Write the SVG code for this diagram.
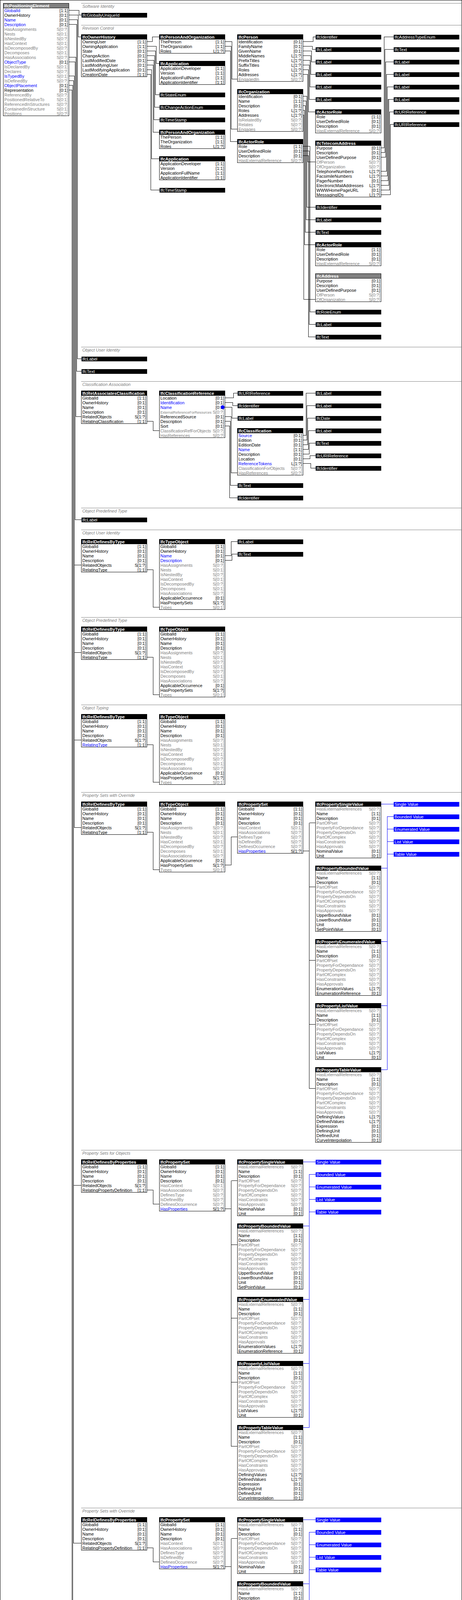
<svg xmlns="http://www.w3.org/2000/svg" width="1184" height="6004" viewBox="0 0 1184 6004">
<style>
text{font-family:"Liberation Sans",Arial,sans-serif;font-size:11px;fill:#000}
.g{fill:#808080}
.u{fill:#0000ff}
.w{fill:#fff}
.hb{fill:#fff;font-weight:bold}
.c{text-anchor:end}
.st{fill:#808080;font-style:italic}
.sm{font-size:9px}
.sm2{font-size:10.5px}
rect{shape-rendering:crispEdges}
rect.b{fill:#fff;stroke:#000}
rect.h{fill:#000}
rect.ha{fill:#808080;stroke:#000}
rect.t{fill:#000}
rect.bl{fill:#0000ff}
line.s{stroke:#808080;shape-rendering:crispEdges}
#connectors path{fill:none;stroke:#000;shape-rendering:crispEdges}
#connectors path.bp{stroke:#0000ff}
</style>
<defs><clipPath id="clipw"><rect width="166" height="12"/></clipPath></defs>
<rect x="0.5" y="0.5" width="1183" height="6002" fill="#fff" stroke="#000"/>
<g id="sections">
<line class="s" x1="208" y1="8.5" x2="1184" y2="8.5"/><text class="st" x="211" y="19.5">Software Identity</text>
<line class="s" x1="208" y1="64.5" x2="1184" y2="64.5"/><text class="st" x="211" y="75.5">Revision Control</text>
<line class="s" x1="208" y1="888.5" x2="1184" y2="888.5"/><text class="st" x="211" y="899.5">Object User Identity</text>
<line class="s" x1="208" y1="976.5" x2="1184" y2="976.5"/><text class="st" x="211" y="987.5">Classification Association</text>
<line class="s" x1="208" y1="1300.5" x2="1184" y2="1300.5"/><text class="st" x="211" y="1311.5">Object Predefined Type</text>
<line class="s" x1="208" y1="1356.5" x2="1184" y2="1356.5"/><text class="st" x="211" y="1367.5">Object User Identity</text>
<line class="s" x1="208" y1="1580.5" x2="1184" y2="1580.5"/><text class="st" x="211" y="1591.5">Object Predefined Type</text>
<line class="s" x1="208" y1="1804.5" x2="1184" y2="1804.5"/><text class="st" x="211" y="1815.5">Object Typing</text>
<line class="s" x1="208" y1="2028.5" x2="1184" y2="2028.5"/><text class="st" x="211" y="2039.5">Property Sets with Override</text>
<line class="s" x1="208" y1="2944.5" x2="1184" y2="2944.5"/><text class="st" x="211" y="2955.5">Property Sets for Objects</text>
<line class="s" x1="208" y1="3860.5" x2="1184" y2="3860.5"/><text class="st" x="211" y="3871.5">Property Sets with Override</text>
<line class="s" x1="208" y1="4776.5" x2="1184" y2="4776.5"/><text class="st" x="211" y="4787.5">Product Local Placement</text>
<line class="s" x1="208" y1="5560.5" x2="1184" y2="5560.5"/><text class="st" x="211" y="5571.5">FootPrint Geometry</text>
<line class="s" x1="208" y1="5788.5" x2="1184" y2="5788.5"/><text class="st" x="211" y="5799.5">Product Geometric Representation</text>
</g>
<g id="connectors">
<path d="M176.5,26.5H202.5V38.5H208.5"/>
<path d="M176.5,38.5H200.5V94.5H208.5"/>
<path d="M176.5,50.5H198.5V918.5H208.5"/>
<path d="M176.5,62.5H196.5V950.5H208.5"/>
<path d="M176.5,146.5H194.5V1066.5H208.5"/>
<path d="M176.5,158.5H192.5V1330.5H208.5"/>
<path d="M176.5,194.5H190.5V2118.5H208.5M190.5,1446.5H208.5M190.5,1670.5H208.5M190.5,1894.5H208.5"/>
<path d="M176.5,206.5H188.5V3950.5H208.5M188.5,3034.5H208.5"/>
<path d="M176.5,218.5H186.5V4818.5H208.5"/>
<path d="M176.5,230.5H184.5V5866.5H208.5M184.5,5638.5H208.5"/>
<path d="M376.5,106.5H390.5V94.5H408.5"/>
<path d="M376.5,118.5H400.5V162.5H408.5"/>
<path d="M376.5,130.5H398.5V242.5H408.5"/>
<path d="M376.5,142.5H396.5V274.5H408.5"/>
<path d="M376.5,154.5H394.5V306.5H408.5"/>
<path d="M376.5,166.5H392.5V338.5H408.5"/>
<path d="M376.5,178.5H388.5V406.5H408.5"/>
<path d="M376.5,190.5H386.5V486.5H408.5"/>
<path d="M576.5,106.5H594.5V202.5H608.5"/>
<path d="M576.5,118.5H592.5V330.5H608.5"/>
<path d="M576.5,130.5H590.5V362.5H608.5"/>
<path d="M776.5,106.5H802.5V94.5H808.5"/>
<path d="M776.5,118.5H800.5V126.5H808.5"/>
<path d="M776.5,130.5H798.5V158.5H808.5"/>
<path d="M776.5,142.5H796.5V190.5H808.5"/>
<path d="M776.5,154.5H794.5V222.5H808.5"/>
<path d="M776.5,166.5H792.5V254.5H808.5"/>
<path d="M776.5,178.5H790.5V286.5H808.5"/>
<path d="M776.5,190.5H788.5V414.5H808.5"/>
<path d="M776.5,246.5H786.5V530.5H808.5"/>
<path d="M776.5,258.5H784.5V562.5H808.5"/>
<path d="M776.5,270.5H782.5V594.5H808.5"/>
<path d="M776.5,282.5H780.5V626.5H808.5"/>
<path d="M776.5,294.5H778.5V766.5H808.5"/>
<path d="M776.5,374.5H794.5V798.5H808.5"/>
<path d="M776.5,386.5H792.5V830.5H808.5"/>
<path d="M776.5,398.5H790.5V862.5H808.5"/>
<path d="M976.5,378.5H984.5V94.5H1008.5"/>
<path d="M976.5,390.5H986.5V126.5H1008.5"/>
<path d="M976.5,402.5H988.5V158.5H1008.5"/>
<path d="M976.5,438.5H990.5V190.5H1008.5"/>
<path d="M976.5,450.5H992.5V222.5H1008.5"/>
<path d="M976.5,462.5H994.5V254.5H1008.5"/>
<path d="M976.5,474.5H996.5V254.5H1008.5"/>
<path d="M976.5,486.5H998.5V286.5H1008.5"/>
<path d="M976.5,498.5H1000.5V318.5H1008.5"/>
<path d="M376.5,1078.5H392.5V1102.5H408.5"/>
<path d="M576.5,1018.5H598.5V1006.5H608.5"/>
<path d="M576.5,1030.5H596.5V1038.5H608.5"/>
<path d="M576.5,1042.5H594.5V1070.5H608.5"/>
<path d="M576.5,1066.5H592.5V1210.5H608.5"/>
<path d="M576.5,1078.5H590.5V1242.5H608.5"/>
<path d="M576.5,1090.5H588.5V1274.5H608.5"/>
<path d="M776.5,1114.5H784.5V1006.5H808.5"/>
<path d="M776.5,1126.5H786.5V1038.5H808.5"/>
<path d="M776.5,1138.5H788.5V1070.5H808.5"/>
<path d="M776.5,1150.5H790.5V1102.5H808.5"/>
<path d="M776.5,1162.5H792.5V1134.5H808.5"/>
<path d="M776.5,1174.5H794.5V1166.5H808.5"/>
<path d="M776.5,1186.5H796.5V1198.5H808.5"/>
<path d="M376.5,1458.5H392.5V1554.5H408.5"/>
<path d="M576.5,1422.5H592.5V1386.5H608.5"/>
<path d="M576.5,1434.5H594.5V1418.5H608.5"/>
<path d="M376.5,1682.5H392.5V1778.5H408.5"/>
<path d="M376.5,1906.5H392.5V2002.5H408.5"/>
<path d="M376.5,2130.5H392.5V2226.5H408.5"/>
<path d="M576.5,2214.5H592.5V2142.5H608.5"/>
<path d="M776.5,2178.5H792.5M792.5,2106.5V2786.5M792.5,2106.5H808.5M792.5,2270.5H808.5M792.5,2458.5H808.5M792.5,2622.5H808.5M792.5,2786.5H808.5"/>
<path class="bp" d="M976.5,2058.5H1008.5M976.5,2222.5H992.5V2090.5H1008.5M976.5,2410.5H992.5V2122.5H1008.5M976.5,2574.5H992.5V2154.5H1008.5M976.5,2738.5H992.5V2186.5H1008.5"/>
<path d="M376.5,3046.5H392.5V3082.5H408.5"/>
<path d="M576.5,3094.5H592.5M592.5,3022.5V3702.5M592.5,3022.5H608.5M592.5,3186.5H608.5M592.5,3374.5H608.5M592.5,3538.5H608.5M592.5,3702.5H608.5"/>
<path class="bp" d="M776.5,2974.5H808.5M776.5,3138.5H792.5V3006.5H808.5M776.5,3326.5H792.5V3038.5H808.5M776.5,3490.5H792.5V3070.5H808.5M776.5,3654.5H792.5V3102.5H808.5"/>
<path d="M376.5,3962.5H392.5V3998.5H408.5"/>
<path d="M576.5,4010.5H592.5M592.5,3938.5V4618.5M592.5,3938.5H608.5M592.5,4102.5H608.5M592.5,4290.5H608.5M592.5,4454.5H608.5M592.5,4618.5H608.5"/>
<path class="bp" d="M776.5,3890.5H808.5M776.5,4054.5H792.5V3922.5H808.5M776.5,4242.5H792.5V3954.5H808.5M776.5,4406.5H792.5V3986.5H808.5M776.5,4570.5H792.5V4018.5H808.5"/>
<path d="M376.5,4830.5H392.5V4806.5H408.5"/>
<path d="M376.5,4842.5H390.5V4874.5H408.5"/>
<path d="M576.5,4818.5H592.5V5438.5H608.5M592.5,5010.5H608.5"/>
<path d="M776.5,4842.5H792.5V4806.5H808.5"/>
<path d="M776.5,5270.5H792.5V4838.5H808.5"/>
<path d="M376.5,5626.5H392.5V5674.5H408.5"/>
<path d="M576.5,5602.5H596.5V5626.5H608.5"/>
<path d="M576.5,5614.5H593.5V5730.5H608.5"/>
<path d="M576.5,5626.5H590.5V5762.5H608.5"/>
<path d="M376.5,5854.5H392.5V5902.5H408.5"/>
<path d="M576.5,5830.5H596.5V5854.5H608.5"/>
<path d="M576.5,5842.5H593.5V5958.5H608.5"/>
<path d="M576.5,5854.5H590.5V5990.5H608.5"/>
</g>

<g id="n_positioning_element" transform="translate(8.5,8.5)"><rect class="b" width="168" height="288"/><rect class="ha" width="168" height="12"/><text class="hb" x="2.5" y="10">IfcPositioningElement</text>
<g transform="translate(2.5,0)"><text class="u" y="22">GlobalId</text><text y="34">OwnerHistory</text><text class="u" y="46">Name</text><text class="u" y="58">Description</text><text class="g" y="70">HasAssignments</text><text class="g" y="82">Nests</text><text class="g" y="94">IsNestedBy</text><text class="g" y="106">HasContext</text><text class="g" y="118">IsDecomposedBy</text><text class="g" y="130">Decomposes</text><text class="g" y="142">HasAssociations</text><text class="u" y="154">ObjectType</text><text class="g" y="166">IsDeclaredBy</text><text class="g" y="178">Declares</text><text class="u" y="190">IsTypedBy</text><text class="g" y="202">IsDefinedBy</text><text class="u" y="214">ObjectPlacement</text><text y="226">Representation</text><text class="g" y="238">ReferencedBy</text><text class="g" y="250">PositionedRelativeTo</text><text class="g" y="262">ReferencedInStructures</text><text class="g" y="274">ContainedInStructure</text><text class="g" y="286">Positions</text></g>
<g class="c" transform="translate(165.5,0)"><text y="22">[1:1]</text><text y="34">[0:1]</text><text y="46">[0:1]</text><text y="58">[0:1]</text><text class="g" y="70">S[0:?]</text><text class="g" y="82">S[0:1]</text><text class="g" y="94">S[0:?]</text><text class="g" y="106">S[0:1]</text><text class="g" y="118">S[0:?]</text><text class="g" y="130">S[0:1]</text><text class="g" y="142">S[0:?]</text><text y="154">[0:1]</text><text class="g" y="166">S[0:1]</text><text class="g" y="178">S[0:?]</text><text class="g" y="190">S[0:1]</text><text class="g" y="202">S[0:?]</text><text y="214">[0:1]</text><text y="226">[0:1]</text><text class="g" y="238">S[0:?]</text><text class="g" y="250">S[0:1]</text><text class="g" y="262">S[0:?]</text><text class="g" y="274">S[0:1]</text><text class="g" y="286">S[0:?]</text></g></g>

<g id="n_guid" transform="translate(208.5,32.5)"><rect class="t" width="168" height="12"/><text class="w" x="2.5" y="10">IfcGloballyUniqueId</text></g>

<g id="n_ownerhistory" transform="translate(208.5,88.5)"><rect class="b" width="168" height="108"/><rect class="h" width="168" height="12"/><text class="hb" x="2.5" y="10">IfcOwnerHistory</text>
<g transform="translate(2.5,0)"><text y="22">OwningUser</text><text y="34">OwningApplication</text><text y="46">State</text><text y="58">ChangeAction</text><text y="70">LastModifiedDate</text><text y="82">LastModifyingUser</text><text y="94">LastModifyingApplication</text><text y="106">CreationDate</text></g>
<g class="c" transform="translate(165.5,0)"><text y="22">[1:1]</text><text y="34">[1:1]</text><text y="46">[0:1]</text><text y="58">[0:1]</text><text y="70">[0:1]</text><text y="82">[0:1]</text><text y="94">[0:1]</text><text y="106">[1:1]</text></g></g>

<g id="n_pao1" transform="translate(408.5,88.5)"><rect class="b" width="168" height="48"/><rect class="h" width="168" height="12"/><text class="hb" x="2.5" y="10">IfcPersonAndOrganization</text>
<g transform="translate(2.5,0)"><text y="22">ThePerson</text><text y="34">TheOrganization</text><text y="46">Roles</text></g>
<g class="c" transform="translate(165.5,0)"><text y="22">[1:1]</text><text y="34">[1:1]</text><text y="46">L[1:?]</text></g></g>
<g id="n_app1" transform="translate(408.5,156.5)"><rect class="b" width="168" height="60"/><rect class="h" width="168" height="12"/><text class="hb" x="2.5" y="10">IfcApplication</text>
<g transform="translate(2.5,0)"><text y="22">ApplicationDeveloper</text><text y="34">Version</text><text y="46">ApplicationFullName</text><text y="58">ApplicationIdentifier</text></g>
<g class="c" transform="translate(165.5,0)"><text y="22">[1:1]</text><text y="34">[1:1]</text><text y="46">[1:1]</text><text y="58">[1:1]</text></g></g>
<g id="n_stateenum" transform="translate(408.5,236.5)"><rect class="t" width="168" height="12"/><text class="w" x="2.5" y="10">IfcStateEnum</text></g>
<g id="n_changeaction" transform="translate(408.5,268.5)"><rect class="t" width="168" height="12"/><text class="w" x="2.5" y="10">IfcChangeActionEnum</text></g>
<g id="n_timestamp1" transform="translate(408.5,300.5)"><rect class="t" width="168" height="12"/><text class="w" x="2.5" y="10">IfcTimeStamp</text></g>
<g id="n_pao2" transform="translate(408.5,332.5)"><rect class="b" width="168" height="48"/><rect class="h" width="168" height="12"/><text class="hb" x="2.5" y="10">IfcPersonAndOrganization</text>
<g transform="translate(2.5,0)"><text y="22">ThePerson</text><text y="34">TheOrganization</text><text y="46">Roles</text></g>
<g class="c" transform="translate(165.5,0)"><text y="22">[1:1]</text><text y="34">[1:1]</text><text y="46">L[1:?]</text></g></g>
<g id="n_app2" transform="translate(408.5,400.5)"><rect class="b" width="168" height="60"/><rect class="h" width="168" height="12"/><text class="hb" x="2.5" y="10">IfcApplication</text>
<g transform="translate(2.5,0)"><text y="22">ApplicationDeveloper</text><text y="34">Version</text><text y="46">ApplicationFullName</text><text y="58">ApplicationIdentifier</text></g>
<g class="c" transform="translate(165.5,0)"><text y="22">[1:1]</text><text y="34">[1:1]</text><text y="46">[1:1]</text><text y="58">[1:1]</text></g></g>
<g id="n_timestamp2" transform="translate(408.5,480.5)"><rect class="t" width="168" height="12"/><text class="w" x="2.5" y="10">IfcTimeStamp</text></g>

<g id="n_person" transform="translate(608.5,88.5)"><rect class="b" width="168" height="120"/><rect class="h" width="168" height="12"/><text class="hb" x="2.5" y="10">IfcPerson</text>
<g transform="translate(2.5,0)"><text y="22">Identification</text><text y="34">FamilyName</text><text y="46">GivenName</text><text y="58">MiddleNames</text><text y="70">PrefixTitles</text><text y="82">SuffixTitles</text><text y="94">Roles</text><text y="106">Addresses</text><text class="g" y="118">EngagedIn</text></g>
<g class="c" transform="translate(165.5,0)"><text y="22">[0:1]</text><text y="34">[0:1]</text><text y="46">[0:1]</text><text y="58">L[1:?]</text><text y="70">L[1:?]</text><text y="82">L[1:?]</text><text y="94">L[1:?]</text><text y="106">L[1:?]</text><text class="g" y="118">S[0:?]</text></g></g>
<g id="n_organization" transform="translate(608.5,228.5)"><rect class="b" width="168" height="108"/><rect class="h" width="168" height="12"/><text class="hb" x="2.5" y="10">IfcOrganization</text>
<g transform="translate(2.5,0)"><text y="22">Identification</text><text y="34">Name</text><text y="46">Description</text><text y="58">Roles</text><text y="70">Addresses</text><text class="g" y="82">IsRelatedBy</text><text class="g" y="94">Relates</text><text class="g" y="106">Engages</text></g>
<g class="c" transform="translate(165.5,0)"><text y="22">[0:1]</text><text y="34">[1:1]</text><text y="46">[0:1]</text><text y="58">L[1:?]</text><text y="70">L[1:?]</text><text class="g" y="82">S[0:?]</text><text class="g" y="94">S[0:?]</text><text class="g" y="106">S[0:?]</text></g></g>
<g id="n_actorrole1" transform="translate(608.5,356.5)"><rect class="b" width="168" height="60"/><rect class="h" width="168" height="12"/><text class="hb" x="2.5" y="10">IfcActorRole</text>
<g transform="translate(2.5,0)"><text y="22">Role</text><text y="34">UserDefinedRole</text><text y="46">Description</text><text class="g" y="58">HasExternalReference</text></g>
<g class="c" transform="translate(165.5,0)"><text y="22">[1:1]</text><text y="34">[0:1]</text><text y="46">[0:1]</text><text class="g" y="58">S[0:?]</text></g></g>

<g id="n_rc_identifier1" transform="translate(808.5,88.5)"><rect class="t" width="168" height="12"/><text class="w" x="2.5" y="10">IfcIdentifier</text></g>
<g id="n_rc_label1" transform="translate(808.5,120.5)"><rect class="t" width="168" height="12"/><text class="w" x="2.5" y="10">IfcLabel</text></g>
<g id="n_rc_label2" transform="translate(808.5,152.5)"><rect class="t" width="168" height="12"/><text class="w" x="2.5" y="10">IfcLabel</text></g>
<g id="n_rc_label3" transform="translate(808.5,184.5)"><rect class="t" width="168" height="12"/><text class="w" x="2.5" y="10">IfcLabel</text></g>
<g id="n_rc_label4" transform="translate(808.5,216.5)"><rect class="t" width="168" height="12"/><text class="w" x="2.5" y="10">IfcLabel</text></g>
<g id="n_rc_label5" transform="translate(808.5,248.5)"><rect class="t" width="168" height="12"/><text class="w" x="2.5" y="10">IfcLabel</text></g>
<g id="n_actorrole2" transform="translate(808.5,280.5)"><rect class="b" width="168" height="60"/><rect class="h" width="168" height="12"/><text class="hb" x="2.5" y="10">IfcActorRole</text>
<g transform="translate(2.5,0)"><text y="22">Role</text><text y="34">UserDefinedRole</text><text y="46">Description</text><text class="g" y="58">HasExternalReference</text></g>
<g class="c" transform="translate(165.5,0)"><text y="22">[1:1]</text><text y="34">[0:1]</text><text y="46">[0:1]</text><text class="g" y="58">S[0:?]</text></g></g>
<g id="n_telecom" transform="translate(808.5,360.5)"><rect class="b" width="168" height="144"/><rect class="h" width="168" height="12"/><text class="hb" x="2.5" y="10">IfcTelecomAddress</text>
<g transform="translate(2.5,0)"><text y="22">Purpose</text><text y="34">Description</text><text y="46">UserDefinedPurpose</text><text class="g" y="58">OfPerson</text><text class="g" y="70">OfOrganization</text><text y="82">TelephoneNumbers</text><text y="94">FacsimileNumbers</text><text y="106">PagerNumber</text><text y="118">ElectronicMailAddresses</text><text y="130">WWWHomePageURL</text><text y="142">MessagingIDs</text></g>
<g class="c" transform="translate(165.5,0)"><text y="22">[0:1]</text><text y="34">[0:1]</text><text y="46">[0:1]</text><text class="g" y="58">S[0:?]</text><text class="g" y="70">S[0:?]</text><text y="82">L[1:?]</text><text y="94">L[1:?]</text><text y="106">[0:1]</text><text y="118">L[1:?]</text><text y="130">[0:1]</text><text y="142">L[1:?]</text></g></g>
<g id="n_rc_identifier2" transform="translate(808.5,524.5)"><rect class="t" width="168" height="12"/><text class="w" x="2.5" y="10">IfcIdentifier</text></g>
<g id="n_rc_label6" transform="translate(808.5,556.5)"><rect class="t" width="168" height="12"/><text class="w" x="2.5" y="10">IfcLabel</text></g>
<g id="n_rc_text1" transform="translate(808.5,588.5)"><rect class="t" width="168" height="12"/><text class="w" x="2.5" y="10">IfcText</text></g>
<g id="n_actorrole3" transform="translate(808.5,620.5)"><rect class="b" width="168" height="60"/><rect class="h" width="168" height="12"/><text class="hb" x="2.5" y="10">IfcActorRole</text>
<g transform="translate(2.5,0)"><text y="22">Role</text><text y="34">UserDefinedRole</text><text y="46">Description</text><text class="g" y="58">HasExternalReference</text></g>
<g class="c" transform="translate(165.5,0)"><text y="22">[1:1]</text><text y="34">[0:1]</text><text y="46">[0:1]</text><text class="g" y="58">S[0:?]</text></g></g>
<g id="n_address" transform="translate(808.5,700.5)"><rect class="b" width="168" height="72"/><rect class="ha" width="168" height="12"/><text class="hb" x="2.5" y="10">IfcAddress</text>
<g transform="translate(2.5,0)"><text y="22">Purpose</text><text y="34">Description</text><text y="46">UserDefinedPurpose</text><text class="g" y="58">OfPerson</text><text class="g" y="70">OfOrganization</text></g>
<g class="c" transform="translate(165.5,0)"><text y="22">[0:1]</text><text y="34">[0:1]</text><text y="46">[0:1]</text><text class="g" y="58">S[0:?]</text><text class="g" y="70">S[0:?]</text></g></g>
<g id="n_roleenum" transform="translate(808.5,792.5)"><rect class="t" width="168" height="12"/><text class="w" x="2.5" y="10">IfcRoleEnum</text></g>
<g id="n_rc_label7" transform="translate(808.5,824.5)"><rect class="t" width="168" height="12"/><text class="w" x="2.5" y="10">IfcLabel</text></g>
<g id="n_rc_text2" transform="translate(808.5,856.5)"><rect class="t" width="168" height="12"/><text class="w" x="2.5" y="10">IfcText</text></g>

<g id="n_addresstypeenum" transform="translate(1008.5,88.5)"><rect class="t" width="168" height="12"/><text class="w" x="2.5" y="10">IfcAddressTypeEnum</text></g>
<g id="n_rc_text3" transform="translate(1008.5,120.5)"><rect class="t" width="168" height="12"/><text class="w" x="2.5" y="10">IfcText</text></g>
<g id="n_rc_label8" transform="translate(1008.5,152.5)"><rect class="t" width="168" height="12"/><text class="w" x="2.5" y="10">IfcLabel</text></g>
<g id="n_rc_label9" transform="translate(1008.5,184.5)"><rect class="t" width="168" height="12"/><text class="w" x="2.5" y="10">IfcLabel</text></g>
<g id="n_rc_label10" transform="translate(1008.5,216.5)"><rect class="t" width="168" height="12"/><text class="w" x="2.5" y="10">IfcLabel</text></g>
<g id="n_rc_label11" transform="translate(1008.5,248.5)"><rect class="t" width="168" height="12"/><text class="w" x="2.5" y="10">IfcLabel</text></g>
<g id="n_rc_uri1" transform="translate(1008.5,280.5)"><rect class="t" width="168" height="12"/><text class="w" x="2.5" y="10">IfcURIReference</text></g>
<g id="n_rc_uri2" transform="translate(1008.5,312.5)"><rect class="t" width="168" height="12"/><text class="w" x="2.5" y="10">IfcURIReference</text></g>

<g id="n_oui_label" transform="translate(208.5,912.5)"><rect class="t" width="168" height="12"/><text class="w" x="2.5" y="10">IfcLabel</text></g>
<g id="n_oui_text" transform="translate(208.5,944.5)"><rect class="t" width="168" height="12"/><text class="w" x="2.5" y="10">IfcText</text></g>

<g id="n_relassocclass" transform="translate(208.5,1000.5)"><rect class="b" width="168" height="84"/><rect class="h" width="168" height="12"/><text class="hb" x="2.5" y="10">IfcRelAssociatesClassification</text>
<g transform="translate(2.5,0)"><text y="22">GlobalId</text><text y="34">OwnerHistory</text><text y="46">Name</text><text y="58">Description</text><text y="70">RelatedObjects</text><text y="82">RelatingClassification</text></g>
<g class="c" transform="translate(165.5,0)"><text y="22">[1:1]</text><text y="34">[0:1]</text><text y="46">[0:1]</text><text y="58">[0:1]</text><text y="70">S[1:?]</text><text y="82">[1:1]</text></g></g>
<g id="n_classref" transform="translate(408.5,1000.5)"><rect class="b" width="168" height="120"/><rect class="h" width="168" height="12"/><text class="hb" x="2.5" y="10">IfcClassificationReference</text>
<g transform="translate(2.5,0)"><text y="22">Location</text><text class="u" y="34">Identification</text><text class="u" y="46">Name</text><text class="g sm" y="58">ExternalReferenceForResources</text><text y="70">ReferencedSource</text><text y="82">Description</text><text y="94">Sort</text><text class="g sm2" y="106">ClassificationRefForObjects</text><text class="g" y="118">HasReferences</text></g>
<g class="c" transform="translate(165.5,0)"><text y="22">[0:1]</text><text y="34">[0:1]</text><text y="46">[0:1]</text><text class="g" y="58">S[0:?]</text><text y="70">[0:1]</text><text y="82">[0:1]</text><text y="94">[0:1]</text><text class="g" y="106">S[0:?]</text><text class="g" y="118">S[0:?]</text></g>
<circle cx="162" cy="42" r="5" fill="#0000ff"/></g>
<g id="n_ca_uri1" transform="translate(608.5,1000.5)"><rect class="t" width="168" height="12"/><text class="w" x="2.5" y="10">IfcURIReference</text></g>
<g id="n_ca_identifier1" transform="translate(608.5,1032.5)"><rect class="t" width="168" height="12"/><text class="w" x="2.5" y="10">IfcIdentifier</text></g>
<g id="n_ca_label1" transform="translate(608.5,1064.5)"><rect class="t" width="168" height="12"/><text class="w" x="2.5" y="10">IfcLabel</text></g>
<g id="n_classification" transform="translate(608.5,1096.5)"><rect class="b" width="168" height="120"/><rect class="h" width="168" height="12"/><text class="hb" x="2.5" y="10">IfcClassification</text>
<g transform="translate(2.5,0)"><text class="u" y="22">Source</text><text y="34">Edition</text><text y="46">EditionDate</text><text class="u" y="58">Name</text><text y="70">Description</text><text y="82">Location</text><text class="u" y="94">ReferenceTokens</text><text class="g" y="106">ClassificationForObjects</text><text class="g" y="118">HasReferences</text></g>
<g class="c" transform="translate(165.5,0)"><text y="22">[0:1]</text><text y="34">[0:1]</text><text y="46">[0:1]</text><text y="58">[1:1]</text><text y="70">[0:1]</text><text y="82">[0:1]</text><text y="94">L[1:?]</text><text class="g" y="106">S[0:?]</text><text class="g" y="118">S[0:?]</text></g></g>
<g id="n_ca_text1" transform="translate(608.5,1236.5)"><rect class="t" width="168" height="12"/><text class="w" x="2.5" y="10">IfcText</text></g>
<g id="n_ca_identifier2" transform="translate(608.5,1268.5)"><rect class="t" width="168" height="12"/><text class="w" x="2.5" y="10">IfcIdentifier</text></g>
<g id="n_ca_label2" transform="translate(808.5,1000.5)"><rect class="t" width="168" height="12"/><text class="w" x="2.5" y="10">IfcLabel</text></g>
<g id="n_ca_label3" transform="translate(808.5,1032.5)"><rect class="t" width="168" height="12"/><text class="w" x="2.5" y="10">IfcLabel</text></g>
<g id="n_ca_date" transform="translate(808.5,1064.5)"><rect class="t" width="168" height="12"/><text class="w" x="2.5" y="10">IfcDate</text></g>
<g id="n_ca_label4" transform="translate(808.5,1096.5)"><rect class="t" width="168" height="12"/><text class="w" x="2.5" y="10">IfcLabel</text></g>
<g id="n_ca_text2" transform="translate(808.5,1128.5)"><rect class="t" width="168" height="12"/><text class="w" x="2.5" y="10">IfcText</text></g>
<g id="n_ca_uri2" transform="translate(808.5,1160.5)"><rect class="t" width="168" height="12"/><text class="w" x="2.5" y="10">IfcURIReference</text></g>
<g id="n_ca_identifier3" transform="translate(808.5,1192.5)"><rect class="t" width="168" height="12"/><text class="w" x="2.5" y="10">IfcIdentifier</text></g>

<g id="n_opt_label" transform="translate(208.5,1324.5)"><rect class="t" width="168" height="12"/><text class="w" x="2.5" y="10">IfcLabel</text></g>

<g id="n_rdbt1" transform="translate(208.5,1380.5)"><rect class="b" width="168" height="84"/><rect class="h" width="168" height="12"/><text class="hb" x="2.5" y="10">IfcRelDefinesByType</text>
<g transform="translate(2.5,0)"><text y="22">GlobalId</text><text y="34">OwnerHistory</text><text y="46">Name</text><text y="58">Description</text><text y="70">RelatedObjects</text><text y="82">RelatingType</text></g>
<g class="c" transform="translate(165.5,0)"><text y="22">[1:1]</text><text y="34">[0:1]</text><text y="46">[0:1]</text><text y="58">[0:1]</text><text y="70">S[1:?]</text><text y="82">[1:1]</text></g></g>
<g id="n_typeobj1" transform="translate(408.5,1380.5)"><rect class="b" width="168" height="180"/><rect class="h" width="168" height="12"/><text class="hb" x="2.5" y="10">IfcTypeObject</text>
<g transform="translate(2.5,0)"><text y="22">GlobalId</text><text y="34">OwnerHistory</text><text class="u" y="46">Name</text><text class="u" y="58">Description</text><text class="g" y="70">HasAssignments</text><text class="g" y="82">Nests</text><text class="g" y="94">IsNestedBy</text><text class="g" y="106">HasContext</text><text class="g" y="118">IsDecomposedBy</text><text class="g" y="130">Decomposes</text><text class="g" y="142">HasAssociations</text><text y="154">ApplicableOccurrence</text><text y="166">HasPropertySets</text><text class="g" y="178">Types</text></g>
<g class="c" transform="translate(165.5,0)"><text y="22">[1:1]</text><text y="34">[0:1]</text><text y="46">[0:1]</text><text y="58">[0:1]</text><text class="g" y="70">S[0:?]</text><text class="g" y="82">S[0:1]</text><text class="g" y="94">S[0:?]</text><text class="g" y="106">S[0:1]</text><text class="g" y="118">S[0:?]</text><text class="g" y="130">S[0:1]</text><text class="g" y="142">S[0:?]</text><text y="154">[0:1]</text><text y="166">S[1:?]</text><text class="g" y="178">S[0:1]</text></g></g>
<g id="n_oui2_label" transform="translate(608.5,1380.5)"><rect class="t" width="168" height="12"/><text class="w" x="2.5" y="10">IfcLabel</text></g>
<g id="n_oui2_text" transform="translate(608.5,1412.5)"><rect class="t" width="168" height="12"/><text class="w" x="2.5" y="10">IfcText</text></g>

<g id="n_rdbt2" transform="translate(208.5,1604.5)"><rect class="b" width="168" height="84"/><rect class="h" width="168" height="12"/><text class="hb" x="2.5" y="10">IfcRelDefinesByType</text>
<g transform="translate(2.5,0)"><text y="22">GlobalId</text><text y="34">OwnerHistory</text><text y="46">Name</text><text y="58">Description</text><text y="70">RelatedObjects</text><text y="82">RelatingType</text></g>
<g class="c" transform="translate(165.5,0)"><text y="22">[1:1]</text><text y="34">[0:1]</text><text y="46">[0:1]</text><text y="58">[0:1]</text><text y="70">S[1:?]</text><text y="82">[1:1]</text></g></g>
<g id="n_typeobj2" transform="translate(408.5,1604.5)"><rect class="b" width="168" height="180"/><rect class="h" width="168" height="12"/><text class="hb" x="2.5" y="10">IfcTypeObject</text>
<g transform="translate(2.5,0)"><text y="22">GlobalId</text><text y="34">OwnerHistory</text><text y="46">Name</text><text y="58">Description</text><text class="g" y="70">HasAssignments</text><text class="g" y="82">Nests</text><text class="g" y="94">IsNestedBy</text><text class="g" y="106">HasContext</text><text class="g" y="118">IsDecomposedBy</text><text class="g" y="130">Decomposes</text><text class="g" y="142">HasAssociations</text><text y="154">ApplicableOccurrence</text><text y="166">HasPropertySets</text><text class="g" y="178">Types</text></g>
<g class="c" transform="translate(165.5,0)"><text y="22">[1:1]</text><text y="34">[0:1]</text><text y="46">[0:1]</text><text y="58">[0:1]</text><text class="g" y="70">S[0:?]</text><text class="g" y="82">S[0:1]</text><text class="g" y="94">S[0:?]</text><text class="g" y="106">S[0:1]</text><text class="g" y="118">S[0:?]</text><text class="g" y="130">S[0:1]</text><text class="g" y="142">S[0:?]</text><text y="154">[0:1]</text><text y="166">S[1:?]</text><text class="g" y="178">S[0:1]</text></g></g>

<g id="n_rdbt3" transform="translate(208.5,1828.5)"><rect class="b" width="168" height="84"/><rect class="h" width="168" height="12"/><text class="hb" x="2.5" y="10">IfcRelDefinesByType</text>
<g transform="translate(2.5,0)"><text y="22">GlobalId</text><text y="34">OwnerHistory</text><text y="46">Name</text><text y="58">Description</text><text y="70">RelatedObjects</text><text class="u" y="82">RelatingType</text></g>
<g class="c" transform="translate(165.5,0)"><text y="22">[1:1]</text><text y="34">[0:1]</text><text y="46">[0:1]</text><text y="58">[0:1]</text><text y="70">S[1:?]</text><text y="82">[1:1]</text></g></g>
<g id="n_typeobj3" transform="translate(408.5,1828.5)"><rect class="b" width="168" height="180"/><rect class="h" width="168" height="12"/><text class="hb" x="2.5" y="10">IfcTypeObject</text>
<g transform="translate(2.5,0)"><text y="22">GlobalId</text><text y="34">OwnerHistory</text><text y="46">Name</text><text y="58">Description</text><text class="g" y="70">HasAssignments</text><text class="g" y="82">Nests</text><text class="g" y="94">IsNestedBy</text><text class="g" y="106">HasContext</text><text class="g" y="118">IsDecomposedBy</text><text class="g" y="130">Decomposes</text><text class="g" y="142">HasAssociations</text><text y="154">ApplicableOccurrence</text><text y="166">HasPropertySets</text><text class="g" y="178">Types</text></g>
<g class="c" transform="translate(165.5,0)"><text y="22">[1:1]</text><text y="34">[0:1]</text><text y="46">[0:1]</text><text y="58">[0:1]</text><text class="g" y="70">S[0:?]</text><text class="g" y="82">S[0:1]</text><text class="g" y="94">S[0:?]</text><text class="g" y="106">S[0:1]</text><text class="g" y="118">S[0:?]</text><text class="g" y="130">S[0:1]</text><text class="g" y="142">S[0:?]</text><text y="154">[0:1]</text><text y="166">S[1:?]</text><text class="g" y="178">S[0:1]</text></g></g>

<g id="n_rdbt4" transform="translate(208.5,2052.5)"><rect class="b" width="168" height="84"/><rect class="h" width="168" height="12"/><text class="hb" x="2.5" y="10">IfcRelDefinesByType</text>
<g transform="translate(2.5,0)"><text y="22">GlobalId</text><text y="34">OwnerHistory</text><text y="46">Name</text><text y="58">Description</text><text y="70">RelatedObjects</text><text y="82">RelatingType</text></g>
<g class="c" transform="translate(165.5,0)"><text y="22">[1:1]</text><text y="34">[0:1]</text><text y="46">[0:1]</text><text y="58">[0:1]</text><text y="70">S[1:?]</text><text y="82">[1:1]</text></g></g>
<g id="n_typeobj4" transform="translate(408.5,2052.5)"><rect class="b" width="168" height="180"/><rect class="h" width="168" height="12"/><text class="hb" x="2.5" y="10">IfcTypeObject</text>
<g transform="translate(2.5,0)"><text y="22">GlobalId</text><text y="34">OwnerHistory</text><text y="46">Name</text><text y="58">Description</text><text class="g" y="70">HasAssignments</text><text class="g" y="82">Nests</text><text class="g" y="94">IsNestedBy</text><text class="g" y="106">HasContext</text><text class="g" y="118">IsDecomposedBy</text><text class="g" y="130">Decomposes</text><text class="g" y="142">HasAssociations</text><text y="154">ApplicableOccurrence</text><text y="166">HasPropertySets</text><text class="g" y="178">Types</text></g>
<g class="c" transform="translate(165.5,0)"><text y="22">[1:1]</text><text y="34">[0:1]</text><text y="46">[0:1]</text><text y="58">[0:1]</text><text class="g" y="70">S[0:?]</text><text class="g" y="82">S[0:1]</text><text class="g" y="94">S[0:?]</text><text class="g" y="106">S[0:1]</text><text class="g" y="118">S[0:?]</text><text class="g" y="130">S[0:1]</text><text class="g" y="142">S[0:?]</text><text y="154">[0:1]</text><text y="166">S[1:?]</text><text class="g" y="178">S[0:1]</text></g></g>
<g id="n_pset1" transform="translate(608.5,2052.5)"><rect class="b" width="168" height="132"/><rect class="h" width="168" height="12"/><text class="hb" x="2.5" y="10">IfcPropertySet</text>
<g transform="translate(2.5,0)"><text y="22">GlobalId</text><text y="34">OwnerHistory</text><text y="46">Name</text><text y="58">Description</text><text class="g" y="70">HasContext</text><text class="g" y="82">HasAssociations</text><text class="g" y="94">DefinesType</text><text class="g" y="106">IsDefinedBy</text><text class="g" y="118">DefinesOccurrence</text><text class="u" y="130">HasProperties</text></g>
<g class="c" transform="translate(165.5,0)"><text y="22">[1:1]</text><text y="34">[0:1]</text><text y="46">[0:1]</text><text y="58">[0:1]</text><text class="g" y="70">S[0:1]</text><text class="g" y="82">S[0:?]</text><text class="g" y="94">S[0:?]</text><text class="g" y="106">S[0:?]</text><text class="g" y="118">S[0:?]</text><text y="130">S[1:?]</text></g></g>
<g id="n_single1" transform="translate(808.5,2052.5)"><rect class="b" width="168" height="144"/><rect class="h" width="168" height="12"/><text class="hb" x="2.5" y="10">IfcPropertySingleValue</text>
<g transform="translate(2.5,0)"><text class="g" y="22">HasExternalReferences</text><text y="34">Name</text><text y="46">Description</text><text class="g" y="58">PartOfPset</text><text class="g" y="70">PropertyForDependance</text><text class="g" y="82">PropertyDependsOn</text><text class="g" y="94">PartOfComplex</text><text class="g" y="106">HasConstraints</text><text class="g" y="118">HasApprovals</text><text y="130">NominalValue</text><text y="142">Unit</text></g>
<g class="c" transform="translate(165.5,0)"><text class="g" y="22">S[0:?]</text><text y="34">[1:1]</text><text y="46">[0:1]</text><text class="g" y="58">S[0:?]</text><text class="g" y="70">S[0:?]</text><text class="g" y="82">S[0:?]</text><text class="g" y="94">S[0:?]</text><text class="g" y="106">S[0:?]</text><text class="g" y="118">S[0:?]</text><text y="130">[0:1]</text><text y="142">[0:1]</text></g></g>
<g id="n_bounded1" transform="translate(808.5,2216.5)"><rect class="b" width="168" height="168"/><rect class="h" width="168" height="12"/><text class="hb" x="2.5" y="10">IfcPropertyBoundedValue</text>
<g transform="translate(2.5,0)"><text class="g" y="22">HasExternalReferences</text><text y="34">Name</text><text y="46">Description</text><text class="g" y="58">PartOfPset</text><text class="g" y="70">PropertyForDependance</text><text class="g" y="82">PropertyDependsOn</text><text class="g" y="94">PartOfComplex</text><text class="g" y="106">HasConstraints</text><text class="g" y="118">HasApprovals</text><text y="130">UpperBoundValue</text><text y="142">LowerBoundValue</text><text y="154">Unit</text><text y="166">SetPointValue</text></g>
<g class="c" transform="translate(165.5,0)"><text class="g" y="22">S[0:?]</text><text y="34">[1:1]</text><text y="46">[0:1]</text><text class="g" y="58">S[0:?]</text><text class="g" y="70">S[0:?]</text><text class="g" y="82">S[0:?]</text><text class="g" y="94">S[0:?]</text><text class="g" y="106">S[0:?]</text><text class="g" y="118">S[0:?]</text><text y="130">[0:1]</text><text y="142">[0:1]</text><text y="154">[0:1]</text><text y="166">[0:1]</text></g></g>
<g id="n_enum1" transform="translate(808.5,2404.5)"><rect class="b" width="168" height="144"/><rect class="h" width="168" height="12"/><text class="hb" x="2.5" y="10">IfcPropertyEnumeratedValue</text>
<g transform="translate(2.5,0)"><text class="g" y="22">HasExternalReferences</text><text y="34">Name</text><text y="46">Description</text><text class="g" y="58">PartOfPset</text><text class="g" y="70">PropertyForDependance</text><text class="g" y="82">PropertyDependsOn</text><text class="g" y="94">PartOfComplex</text><text class="g" y="106">HasConstraints</text><text class="g" y="118">HasApprovals</text><text y="130">EnumerationValues</text><text y="142">EnumerationReference</text></g>
<g class="c" transform="translate(165.5,0)"><text class="g" y="22">S[0:?]</text><text y="34">[1:1]</text><text y="46">[0:1]</text><text class="g" y="58">S[0:?]</text><text class="g" y="70">S[0:?]</text><text class="g" y="82">S[0:?]</text><text class="g" y="94">S[0:?]</text><text class="g" y="106">S[0:?]</text><text class="g" y="118">S[0:?]</text><text y="130">L[1:?]</text><text y="142">[0:1]</text></g></g>
<g id="n_list1" transform="translate(808.5,2568.5)"><rect class="b" width="168" height="144"/><rect class="h" width="168" height="12"/><text class="hb" x="2.5" y="10">IfcPropertyListValue</text>
<g transform="translate(2.5,0)"><text class="g" y="22">HasExternalReferences</text><text y="34">Name</text><text y="46">Description</text><text class="g" y="58">PartOfPset</text><text class="g" y="70">PropertyForDependance</text><text class="g" y="82">PropertyDependsOn</text><text class="g" y="94">PartOfComplex</text><text class="g" y="106">HasConstraints</text><text class="g" y="118">HasApprovals</text><text y="130">ListValues</text><text y="142">Unit</text></g>
<g class="c" transform="translate(165.5,0)"><text class="g" y="22">S[0:?]</text><text y="34">[1:1]</text><text y="46">[0:1]</text><text class="g" y="58">S[0:?]</text><text class="g" y="70">S[0:?]</text><text class="g" y="82">S[0:?]</text><text class="g" y="94">S[0:?]</text><text class="g" y="106">S[0:?]</text><text class="g" y="118">S[0:?]</text><text y="130">L[1:?]</text><text y="142">[0:1]</text></g></g>
<g id="n_table1" transform="translate(808.5,2732.5)"><rect class="b" width="168" height="192"/><rect class="h" width="168" height="12"/><text class="hb" x="2.5" y="10">IfcPropertyTableValue</text>
<g transform="translate(2.5,0)"><text class="g" y="22">HasExternalReferences</text><text y="34">Name</text><text y="46">Description</text><text class="g" y="58">PartOfPset</text><text class="g" y="70">PropertyForDependance</text><text class="g" y="82">PropertyDependsOn</text><text class="g" y="94">PartOfComplex</text><text class="g" y="106">HasConstraints</text><text class="g" y="118">HasApprovals</text><text y="130">DefiningValues</text><text y="142">DefinedValues</text><text y="154">Expression</text><text y="166">DefiningUnit</text><text y="178">DefinedUnit</text><text y="190">CurveInterpolation</text></g>
<g class="c" transform="translate(165.5,0)"><text class="g" y="22">S[0:?]</text><text y="34">[1:1]</text><text y="46">[0:1]</text><text class="g" y="58">S[0:?]</text><text class="g" y="70">S[0:?]</text><text class="g" y="82">S[0:?]</text><text class="g" y="94">S[0:?]</text><text class="g" y="106">S[0:?]</text><text class="g" y="118">S[0:?]</text><text y="130">L[1:?]</text><text y="142">L[1:?]</text><text y="154">[0:1]</text><text y="166">[0:1]</text><text y="178">[0:1]</text><text y="190">[0:1]</text></g></g>
<g id="n_lbl_single1" transform="translate(1008.5,2052.5)"><rect class="bl" width="168" height="12"/><text class="w" x="2.5" y="10">Single Value</text></g>
<g id="n_lbl_bounded1" transform="translate(1008.5,2084.5)"><rect class="bl" width="168" height="12"/><text class="w" x="2.5" y="10">Bounded Value</text></g>
<g id="n_lbl_enum1" transform="translate(1008.5,2116.5)"><rect class="bl" width="168" height="12"/><text class="w" x="2.5" y="10">Enumerated Value</text></g>
<g id="n_lbl_list1" transform="translate(1008.5,2148.5)"><rect class="bl" width="168" height="12"/><text class="w" x="2.5" y="10">List Value</text></g>
<g id="n_lbl_table1" transform="translate(1008.5,2180.5)"><rect class="bl" width="168" height="12"/><text class="w" x="2.5" y="10">Table Value</text></g>

<g id="n_rdbp1" transform="translate(208.5,2968.5)"><rect class="b" width="168" height="84"/><rect class="h" width="168" height="12"/><text class="hb" x="2.5" y="10">IfcRelDefinesByProperties</text>
<g transform="translate(2.5,0)"><text y="22">GlobalId</text><text y="34">OwnerHistory</text><text y="46">Name</text><text y="58">Description</text><text y="70">RelatedObjects</text><text y="82">RelatingPropertyDefinition</text></g>
<g class="c" transform="translate(165.5,0)"><text y="22">[1:1]</text><text y="34">[0:1]</text><text y="46">[0:1]</text><text y="58">[0:1]</text><text y="70">S[1:?]</text><text y="82">[1:1]</text></g></g>
<g id="n_pset2" transform="translate(408.5,2968.5)"><rect class="b" width="168" height="132"/><rect class="h" width="168" height="12"/><text class="hb" x="2.5" y="10">IfcPropertySet</text>
<g transform="translate(2.5,0)"><text y="22">GlobalId</text><text y="34">OwnerHistory</text><text y="46">Name</text><text y="58">Description</text><text class="g" y="70">HasContext</text><text class="g" y="82">HasAssociations</text><text class="g" y="94">DefinesType</text><text class="g" y="106">IsDefinedBy</text><text class="g" y="118">DefinesOccurrence</text><text class="u" y="130">HasProperties</text></g>
<g class="c" transform="translate(165.5,0)"><text y="22">[1:1]</text><text y="34">[0:1]</text><text y="46">[0:1]</text><text y="58">[0:1]</text><text class="g" y="70">S[0:1]</text><text class="g" y="82">S[0:?]</text><text class="g" y="94">S[0:?]</text><text class="g" y="106">S[0:?]</text><text class="g" y="118">S[0:?]</text><text y="130">S[1:?]</text></g></g>
<g id="n_single2" transform="translate(608.5,2968.5)"><rect class="b" width="168" height="144"/><rect class="h" width="168" height="12"/><text class="hb" x="2.5" y="10">IfcPropertySingleValue</text>
<g transform="translate(2.5,0)"><text class="g" y="22">HasExternalReferences</text><text y="34">Name</text><text y="46">Description</text><text class="g" y="58">PartOfPset</text><text class="g" y="70">PropertyForDependance</text><text class="g" y="82">PropertyDependsOn</text><text class="g" y="94">PartOfComplex</text><text class="g" y="106">HasConstraints</text><text class="g" y="118">HasApprovals</text><text y="130">NominalValue</text><text y="142">Unit</text></g>
<g class="c" transform="translate(165.5,0)"><text class="g" y="22">S[0:?]</text><text y="34">[1:1]</text><text y="46">[0:1]</text><text class="g" y="58">S[0:?]</text><text class="g" y="70">S[0:?]</text><text class="g" y="82">S[0:?]</text><text class="g" y="94">S[0:?]</text><text class="g" y="106">S[0:?]</text><text class="g" y="118">S[0:?]</text><text y="130">[0:1]</text><text y="142">[0:1]</text></g></g>
<g id="n_bounded2" transform="translate(608.5,3132.5)"><rect class="b" width="168" height="168"/><rect class="h" width="168" height="12"/><text class="hb" x="2.5" y="10">IfcPropertyBoundedValue</text>
<g transform="translate(2.5,0)"><text class="g" y="22">HasExternalReferences</text><text y="34">Name</text><text y="46">Description</text><text class="g" y="58">PartOfPset</text><text class="g" y="70">PropertyForDependance</text><text class="g" y="82">PropertyDependsOn</text><text class="g" y="94">PartOfComplex</text><text class="g" y="106">HasConstraints</text><text class="g" y="118">HasApprovals</text><text y="130">UpperBoundValue</text><text y="142">LowerBoundValue</text><text y="154">Unit</text><text y="166">SetPointValue</text></g>
<g class="c" transform="translate(165.5,0)"><text class="g" y="22">S[0:?]</text><text y="34">[1:1]</text><text y="46">[0:1]</text><text class="g" y="58">S[0:?]</text><text class="g" y="70">S[0:?]</text><text class="g" y="82">S[0:?]</text><text class="g" y="94">S[0:?]</text><text class="g" y="106">S[0:?]</text><text class="g" y="118">S[0:?]</text><text y="130">[0:1]</text><text y="142">[0:1]</text><text y="154">[0:1]</text><text y="166">[0:1]</text></g></g>
<g id="n_enum2" transform="translate(608.5,3320.5)"><rect class="b" width="168" height="144"/><rect class="h" width="168" height="12"/><text class="hb" x="2.5" y="10">IfcPropertyEnumeratedValue</text>
<g transform="translate(2.5,0)"><text class="g" y="22">HasExternalReferences</text><text y="34">Name</text><text y="46">Description</text><text class="g" y="58">PartOfPset</text><text class="g" y="70">PropertyForDependance</text><text class="g" y="82">PropertyDependsOn</text><text class="g" y="94">PartOfComplex</text><text class="g" y="106">HasConstraints</text><text class="g" y="118">HasApprovals</text><text y="130">EnumerationValues</text><text y="142">EnumerationReference</text></g>
<g class="c" transform="translate(165.5,0)"><text class="g" y="22">S[0:?]</text><text y="34">[1:1]</text><text y="46">[0:1]</text><text class="g" y="58">S[0:?]</text><text class="g" y="70">S[0:?]</text><text class="g" y="82">S[0:?]</text><text class="g" y="94">S[0:?]</text><text class="g" y="106">S[0:?]</text><text class="g" y="118">S[0:?]</text><text y="130">L[1:?]</text><text y="142">[0:1]</text></g></g>
<g id="n_list2" transform="translate(608.5,3484.5)"><rect class="b" width="168" height="144"/><rect class="h" width="168" height="12"/><text class="hb" x="2.5" y="10">IfcPropertyListValue</text>
<g transform="translate(2.5,0)"><text class="g" y="22">HasExternalReferences</text><text y="34">Name</text><text y="46">Description</text><text class="g" y="58">PartOfPset</text><text class="g" y="70">PropertyForDependance</text><text class="g" y="82">PropertyDependsOn</text><text class="g" y="94">PartOfComplex</text><text class="g" y="106">HasConstraints</text><text class="g" y="118">HasApprovals</text><text y="130">ListValues</text><text y="142">Unit</text></g>
<g class="c" transform="translate(165.5,0)"><text class="g" y="22">S[0:?]</text><text y="34">[1:1]</text><text y="46">[0:1]</text><text class="g" y="58">S[0:?]</text><text class="g" y="70">S[0:?]</text><text class="g" y="82">S[0:?]</text><text class="g" y="94">S[0:?]</text><text class="g" y="106">S[0:?]</text><text class="g" y="118">S[0:?]</text><text y="130">L[1:?]</text><text y="142">[0:1]</text></g></g>
<g id="n_table2" transform="translate(608.5,3648.5)"><rect class="b" width="168" height="192"/><rect class="h" width="168" height="12"/><text class="hb" x="2.5" y="10">IfcPropertyTableValue</text>
<g transform="translate(2.5,0)"><text class="g" y="22">HasExternalReferences</text><text y="34">Name</text><text y="46">Description</text><text class="g" y="58">PartOfPset</text><text class="g" y="70">PropertyForDependance</text><text class="g" y="82">PropertyDependsOn</text><text class="g" y="94">PartOfComplex</text><text class="g" y="106">HasConstraints</text><text class="g" y="118">HasApprovals</text><text y="130">DefiningValues</text><text y="142">DefinedValues</text><text y="154">Expression</text><text y="166">DefiningUnit</text><text y="178">DefinedUnit</text><text y="190">CurveInterpolation</text></g>
<g class="c" transform="translate(165.5,0)"><text class="g" y="22">S[0:?]</text><text y="34">[1:1]</text><text y="46">[0:1]</text><text class="g" y="58">S[0:?]</text><text class="g" y="70">S[0:?]</text><text class="g" y="82">S[0:?]</text><text class="g" y="94">S[0:?]</text><text class="g" y="106">S[0:?]</text><text class="g" y="118">S[0:?]</text><text y="130">L[1:?]</text><text y="142">L[1:?]</text><text y="154">[0:1]</text><text y="166">[0:1]</text><text y="178">[0:1]</text><text y="190">[0:1]</text></g></g>
<g id="n_lbl_single2" transform="translate(808.5,2968.5)"><rect class="bl" width="168" height="12"/><text class="w" x="2.5" y="10">Single Value</text></g>
<g id="n_lbl_bounded2" transform="translate(808.5,3000.5)"><rect class="bl" width="168" height="12"/><text class="w" x="2.5" y="10">Bounded Value</text></g>
<g id="n_lbl_enum2" transform="translate(808.5,3032.5)"><rect class="bl" width="168" height="12"/><text class="w" x="2.5" y="10">Enumerated Value</text></g>
<g id="n_lbl_list2" transform="translate(808.5,3064.5)"><rect class="bl" width="168" height="12"/><text class="w" x="2.5" y="10">List Value</text></g>
<g id="n_lbl_table2" transform="translate(808.5,3096.5)"><rect class="bl" width="168" height="12"/><text class="w" x="2.5" y="10">Table Value</text></g>

<g id="n_rdbp2" transform="translate(208.5,3884.5)"><rect class="b" width="168" height="84"/><rect class="h" width="168" height="12"/><text class="hb" x="2.5" y="10">IfcRelDefinesByProperties</text>
<g transform="translate(2.5,0)"><text y="22">GlobalId</text><text y="34">OwnerHistory</text><text y="46">Name</text><text y="58">Description</text><text y="70">RelatedObjects</text><text y="82">RelatingPropertyDefinition</text></g>
<g class="c" transform="translate(165.5,0)"><text y="22">[1:1]</text><text y="34">[0:1]</text><text y="46">[0:1]</text><text y="58">[0:1]</text><text y="70">S[1:?]</text><text y="82">[1:1]</text></g></g>
<g id="n_pset3" transform="translate(408.5,3884.5)"><rect class="b" width="168" height="132"/><rect class="h" width="168" height="12"/><text class="hb" x="2.5" y="10">IfcPropertySet</text>
<g transform="translate(2.5,0)"><text y="22">GlobalId</text><text y="34">OwnerHistory</text><text y="46">Name</text><text y="58">Description</text><text class="g" y="70">HasContext</text><text class="g" y="82">HasAssociations</text><text class="g" y="94">DefinesType</text><text class="g" y="106">IsDefinedBy</text><text class="g" y="118">DefinesOccurrence</text><text class="u" y="130">HasProperties</text></g>
<g class="c" transform="translate(165.5,0)"><text y="22">[1:1]</text><text y="34">[0:1]</text><text y="46">[0:1]</text><text y="58">[0:1]</text><text class="g" y="70">S[0:1]</text><text class="g" y="82">S[0:?]</text><text class="g" y="94">S[0:?]</text><text class="g" y="106">S[0:?]</text><text class="g" y="118">S[0:?]</text><text y="130">S[1:?]</text></g></g>
<g id="n_single3" transform="translate(608.5,3884.5)"><rect class="b" width="168" height="144"/><rect class="h" width="168" height="12"/><text class="hb" x="2.5" y="10">IfcPropertySingleValue</text>
<g transform="translate(2.5,0)"><text class="g" y="22">HasExternalReferences</text><text y="34">Name</text><text y="46">Description</text><text class="g" y="58">PartOfPset</text><text class="g" y="70">PropertyForDependance</text><text class="g" y="82">PropertyDependsOn</text><text class="g" y="94">PartOfComplex</text><text class="g" y="106">HasConstraints</text><text class="g" y="118">HasApprovals</text><text y="130">NominalValue</text><text y="142">Unit</text></g>
<g class="c" transform="translate(165.5,0)"><text class="g" y="22">S[0:?]</text><text y="34">[1:1]</text><text y="46">[0:1]</text><text class="g" y="58">S[0:?]</text><text class="g" y="70">S[0:?]</text><text class="g" y="82">S[0:?]</text><text class="g" y="94">S[0:?]</text><text class="g" y="106">S[0:?]</text><text class="g" y="118">S[0:?]</text><text y="130">[0:1]</text><text y="142">[0:1]</text></g></g>
<g id="n_bounded3" transform="translate(608.5,4048.5)"><rect class="b" width="168" height="168"/><rect class="h" width="168" height="12"/><text class="hb" x="2.5" y="10">IfcPropertyBoundedValue</text>
<g transform="translate(2.5,0)"><text class="g" y="22">HasExternalReferences</text><text y="34">Name</text><text y="46">Description</text><text class="g" y="58">PartOfPset</text><text class="g" y="70">PropertyForDependance</text><text class="g" y="82">PropertyDependsOn</text><text class="g" y="94">PartOfComplex</text><text class="g" y="106">HasConstraints</text><text class="g" y="118">HasApprovals</text><text y="130">UpperBoundValue</text><text y="142">LowerBoundValue</text><text y="154">Unit</text><text y="166">SetPointValue</text></g>
<g class="c" transform="translate(165.5,0)"><text class="g" y="22">S[0:?]</text><text y="34">[1:1]</text><text y="46">[0:1]</text><text class="g" y="58">S[0:?]</text><text class="g" y="70">S[0:?]</text><text class="g" y="82">S[0:?]</text><text class="g" y="94">S[0:?]</text><text class="g" y="106">S[0:?]</text><text class="g" y="118">S[0:?]</text><text y="130">[0:1]</text><text y="142">[0:1]</text><text y="154">[0:1]</text><text y="166">[0:1]</text></g></g>
<g id="n_enum3" transform="translate(608.5,4236.5)"><rect class="b" width="168" height="144"/><rect class="h" width="168" height="12"/><text class="hb" x="2.5" y="10">IfcPropertyEnumeratedValue</text>
<g transform="translate(2.5,0)"><text class="g" y="22">HasExternalReferences</text><text y="34">Name</text><text y="46">Description</text><text class="g" y="58">PartOfPset</text><text class="g" y="70">PropertyForDependance</text><text class="g" y="82">PropertyDependsOn</text><text class="g" y="94">PartOfComplex</text><text class="g" y="106">HasConstraints</text><text class="g" y="118">HasApprovals</text><text y="130">EnumerationValues</text><text y="142">EnumerationReference</text></g>
<g class="c" transform="translate(165.5,0)"><text class="g" y="22">S[0:?]</text><text y="34">[1:1]</text><text y="46">[0:1]</text><text class="g" y="58">S[0:?]</text><text class="g" y="70">S[0:?]</text><text class="g" y="82">S[0:?]</text><text class="g" y="94">S[0:?]</text><text class="g" y="106">S[0:?]</text><text class="g" y="118">S[0:?]</text><text y="130">L[1:?]</text><text y="142">[0:1]</text></g></g>
<g id="n_list3" transform="translate(608.5,4400.5)"><rect class="b" width="168" height="144"/><rect class="h" width="168" height="12"/><text class="hb" x="2.5" y="10">IfcPropertyListValue</text>
<g transform="translate(2.5,0)"><text class="g" y="22">HasExternalReferences</text><text y="34">Name</text><text y="46">Description</text><text class="g" y="58">PartOfPset</text><text class="g" y="70">PropertyForDependance</text><text class="g" y="82">PropertyDependsOn</text><text class="g" y="94">PartOfComplex</text><text class="g" y="106">HasConstraints</text><text class="g" y="118">HasApprovals</text><text y="130">ListValues</text><text y="142">Unit</text></g>
<g class="c" transform="translate(165.5,0)"><text class="g" y="22">S[0:?]</text><text y="34">[1:1]</text><text y="46">[0:1]</text><text class="g" y="58">S[0:?]</text><text class="g" y="70">S[0:?]</text><text class="g" y="82">S[0:?]</text><text class="g" y="94">S[0:?]</text><text class="g" y="106">S[0:?]</text><text class="g" y="118">S[0:?]</text><text y="130">L[1:?]</text><text y="142">[0:1]</text></g></g>
<g id="n_table3" transform="translate(608.5,4564.5)"><rect class="b" width="168" height="192"/><rect class="h" width="168" height="12"/><text class="hb" x="2.5" y="10">IfcPropertyTableValue</text>
<g transform="translate(2.5,0)"><text class="g" y="22">HasExternalReferences</text><text y="34">Name</text><text y="46">Description</text><text class="g" y="58">PartOfPset</text><text class="g" y="70">PropertyForDependance</text><text class="g" y="82">PropertyDependsOn</text><text class="g" y="94">PartOfComplex</text><text class="g" y="106">HasConstraints</text><text class="g" y="118">HasApprovals</text><text y="130">DefiningValues</text><text y="142">DefinedValues</text><text y="154">Expression</text><text y="166">DefiningUnit</text><text y="178">DefinedUnit</text><text y="190">CurveInterpolation</text></g>
<g class="c" transform="translate(165.5,0)"><text class="g" y="22">S[0:?]</text><text y="34">[1:1]</text><text y="46">[0:1]</text><text class="g" y="58">S[0:?]</text><text class="g" y="70">S[0:?]</text><text class="g" y="82">S[0:?]</text><text class="g" y="94">S[0:?]</text><text class="g" y="106">S[0:?]</text><text class="g" y="118">S[0:?]</text><text y="130">L[1:?]</text><text y="142">L[1:?]</text><text y="154">[0:1]</text><text y="166">[0:1]</text><text y="178">[0:1]</text><text y="190">[0:1]</text></g></g>
<g id="n_lbl_single3" transform="translate(808.5,3884.5)"><rect class="bl" width="168" height="12"/><text class="w" x="2.5" y="10">Single Value</text></g>
<g id="n_lbl_bounded3" transform="translate(808.5,3916.5)"><rect class="bl" width="168" height="12"/><text class="w" x="2.5" y="10">Bounded Value</text></g>
<g id="n_lbl_enum3" transform="translate(808.5,3948.5)"><rect class="bl" width="168" height="12"/><text class="w" x="2.5" y="10">Enumerated Value</text></g>
<g id="n_lbl_list3" transform="translate(808.5,3980.5)"><rect class="bl" width="168" height="12"/><text class="w" x="2.5" y="10">List Value</text></g>
<g id="n_lbl_table3" transform="translate(808.5,4012.5)"><rect class="bl" width="168" height="12"/><text class="w" x="2.5" y="10">Table Value</text></g>

<g id="n_localpl1" transform="translate(208.5,4800.5)"><rect class="b" width="168" height="48"/><rect class="h" width="168" height="12"/><text class="hb" x="2.5" y="10">IfcLocalPlacement</text>
<g transform="translate(2.5,0)"><text class="g" y="22">PlacesObject</text><text y="34">PlacementRelTo</text><text y="46">RelativePlacement</text></g>
<g class="c" transform="translate(165.5,0)"><text class="g" y="22">S[0:?]</text><text y="34">[0:1]</text><text y="46">[1:1]</text></g></g>
<g id="n_localpl2" transform="translate(408.5,4800.5)"><rect class="b" width="168" height="48"/><rect class="h" width="168" height="12"/><text class="hb" x="2.5" y="10">IfcLocalPlacement</text>
<g transform="translate(2.5,0)"><text class="u" y="22">PlacesObject</text><text y="34">PlacementRelTo</text><text y="46">RelativePlacement</text></g>
<g class="c" transform="translate(165.5,0)"><text class="g" y="22">S[0:?]</text><text y="34">[0:1]</text><text y="46">[1:1]</text></g></g>
<g id="n_axis2" transform="translate(408.5,4868.5)"><rect class="b" width="168" height="72"/><rect class="h" width="168" height="12"/><text class="hb" x="2.5" y="10">IfcAxis2Placement3D</text>
<g transform="translate(2.5,0)"><text class="g" y="22">LayerAssignment</text><text class="g" y="34">StyledByItem</text><text y="46">Location</text><text y="58">Axis</text><text y="70">RefDirection</text></g>
<g class="c" transform="translate(165.5,0)"><text class="g" y="22">S[0:1]</text><text class="g" y="34">S[0:1]</text><text y="46">[1:1]</text><text y="58">[0:1]</text><text y="70">[0:1]</text></g></g>
<g id="n_element" transform="translate(608.5,4800.5)"><rect class="b" width="168" height="408"/><rect class="ha" width="168" height="12"/><text class="hb" x="2.5" y="10">IfcElement</text>
<g transform="translate(2.5,0)"><text y="22">GlobalId</text><text y="34">OwnerHistory</text><text class="u" y="46">Name</text><text y="58">Description</text><text class="g" y="70">HasAssignments</text><text class="g" y="82">Nests</text><text class="g" y="94">IsNestedBy</text><text class="g" y="106">HasContext</text><text class="g" y="118">IsDecomposedBy</text><text class="g" y="130">Decomposes</text><text class="g" y="142">HasAssociations</text><text y="154">ObjectType</text><text class="g" y="166">IsDeclaredBy</text><text class="g" y="178">Declares</text><text class="g" y="190">IsTypedBy</text><text class="g" y="202">IsDefinedBy</text><text y="214">ObjectPlacement</text><text y="226">Representation</text><text class="g" y="238">ReferencedBy</text><text class="g" y="250">PositionedRelativeTo</text><text class="g" y="262">ReferencedInStructures</text><text y="274">Tag</text><text class="g" y="286">FillsVoids</text><text class="g" y="298">ConnectedTo</text><text class="g" y="310">IsInterferedByElements</text><text class="g" y="322">InterferesElements</text><text class="g" y="334">HasProjections</text><text class="g" y="346">HasOpenings</text><text class="g" y="358">IsConnectionRealization</text><text class="g" y="370">ProvidesBoundaries</text><text class="g" y="382">ConnectedFrom</text><text class="g" y="394">ContainedInStructure</text><text class="g" y="406">HasCoverings</text></g>
<g class="c" transform="translate(165.5,0)"><text y="22">[1:1]</text><text y="34">[0:1]</text><text y="46">[0:1]</text><text y="58">[0:1]</text><text class="g" y="70">S[0:?]</text><text class="g" y="82">S[0:1]</text><text class="g" y="94">S[0:?]</text><text class="g" y="106">S[0:1]</text><text class="g" y="118">S[0:?]</text><text class="g" y="130">S[0:1]</text><text class="g" y="142">S[0:?]</text><text y="154">[0:1]</text><text class="g" y="166">S[0:1]</text><text class="g" y="178">S[0:?]</text><text class="g" y="190">S[0:1]</text><text class="g" y="202">S[0:?]</text><text y="214">[0:1]</text><text y="226">[0:1]</text><text class="g" y="238">S[0:?]</text><text class="g" y="250">S[0:1]</text><text class="g" y="262">S[0:?]</text><text y="274">[0:1]</text><text class="g" y="286">S[0:1]</text><text class="g" y="298">S[0:?]</text><text class="g" y="310">S[0:?]</text><text class="g" y="322">S[0:?]</text><text class="g" y="334">S[0:?]</text><text class="g" y="346">S[0:?]</text><text class="g" y="358">S[0:?]</text><text class="g" y="370">S[0:?]</text><text class="g" y="382">S[0:?]</text><text class="g" y="394">S[0:1]</text><text class="g" y="406">S[0:?]</text></g></g>
<g id="n_spatial" transform="translate(608.5,5228.5)"><rect class="b" width="168" height="312"/><rect class="ha" width="168" height="12"/><text class="hb" x="2.5" y="10">IfcSpatialElement</text>
<g transform="translate(2.5,0)"><text y="22">GlobalId</text><text y="34">OwnerHistory</text><text class="u" y="46">Name</text><text y="58">Description</text><text class="g" y="70">HasAssignments</text><text class="g" y="82">Nests</text><text class="g" y="94">IsNestedBy</text><text class="g" y="106">HasContext</text><text class="g" y="118">IsDecomposedBy</text><text class="g" y="130">Decomposes</text><text class="g" y="142">HasAssociations</text><text y="154">ObjectType</text><text class="g" y="166">IsDeclaredBy</text><text class="g" y="178">Declares</text><text class="g" y="190">IsTypedBy</text><text class="g" y="202">IsDefinedBy</text><text y="214">ObjectPlacement</text><text y="226">Representation</text><text class="g" y="238">ReferencedBy</text><text class="g" y="250">PositionedRelativeTo</text><text class="g" y="262">ReferencedInStructures</text><text y="274">LongName</text><text class="g" y="286">ContainsElements</text><text class="g" y="298">ServicedBySystems</text><text class="g" y="310">ReferencesElements</text></g>
<g class="c" transform="translate(165.5,0)"><text y="22">[1:1]</text><text y="34">[0:1]</text><text y="46">[0:1]</text><text y="58">[0:1]</text><text class="g" y="70">S[0:?]</text><text class="g" y="82">S[0:1]</text><text class="g" y="94">S[0:?]</text><text class="g" y="106">S[0:1]</text><text class="g" y="118">S[0:?]</text><text class="g" y="130">S[0:1]</text><text class="g" y="142">S[0:?]</text><text y="154">[0:1]</text><text class="g" y="166">S[0:1]</text><text class="g" y="178">S[0:?]</text><text class="g" y="190">S[0:1]</text><text class="g" y="202">S[0:?]</text><text y="214">[0:1]</text><text y="226">[0:1]</text><text class="g" y="238">S[0:?]</text><text class="g" y="250">S[0:1]</text><text class="g" y="262">S[0:?]</text><text y="274">[0:1]</text><text class="g" y="286">S[0:?]</text><text class="g" y="298">S[0:?]</text><text class="g" y="310">S[0:?]</text></g></g>
<g id="n_plp_label1" transform="translate(808.5,4800.5)"><rect class="t" width="168" height="12"/><text class="w" x="2.5" y="10">IfcLabel</text></g>
<g id="n_plp_label2" transform="translate(808.5,4832.5)"><rect class="t" width="168" height="12"/><text class="w" x="2.5" y="10">IfcLabel</text></g>

<g id="n_pds1" transform="translate(208.5,5584.5)"><rect class="b" width="168" height="72"/><rect class="h" width="168" height="12"/><text class="hb" x="2.5" y="10">IfcProductDefinitionShape</text>
<g transform="translate(2.5,0)"><text y="22">Name</text><text y="34">Description</text><text y="46">Representations</text><text class="g" y="58">ShapeOfProduct</text><text class="g" y="70">HasShapeAspects</text></g>
<g class="c" transform="translate(165.5,0)"><text y="22">[0:1]</text><text y="34">[0:1]</text><text y="46">L[1:?]</text><text class="g" y="58">S[1:?]</text><text class="g" y="70">S[0:?]</text></g></g>
<g id="n_shaperep1" transform="translate(408.5,5584.5)"><rect class="b" width="168" height="108"/><rect class="h" width="168" height="12"/><text class="hb" x="2.5" y="10">IfcShapeRepresentation</text>
<g transform="translate(2.5,0)"><text y="22">ContextOfItems</text><text class="u" y="34">RepresentationIdentifier</text><text class="u" y="46">RepresentationType</text><text y="58">Items</text><text class="g" y="70">RepresentationMap</text><text class="g" y="82">LayerAssignments</text><text class="g" y="94">OfProductRepresentation</text><text class="g" y="106">OfShapeAspect</text></g>
<g class="c" transform="translate(165.5,0)"><text y="22">[1:1]</text><text y="34">[0:1]</text><text y="46">[0:1]</text><text y="58">S[1:?]</text><text class="g" y="70">S[0:1]</text><text class="g" y="82">S[0:?]</text><text class="g" y="94">S[0:?]</text><text class="g" y="106">S[0:1]</text></g></g>
<g id="n_grc1" transform="translate(608.5,5584.5)"><rect class="b" width="168" height="120"/><rect class="h" width="168" height="12"/><text class="hb" x="2.5" y="10" clip-path="url(#clipw)">IfcGeometricRepresentationContext</text>
<g transform="translate(2.5,0)"><text y="22">ContextIdentifier</text><text y="34">ContextType</text><text class="g" y="46">RepresentationsInContext</text><text y="58">CoordinateSpaceDimension</text><text y="70">Precision</text><text y="82">WorldCoordinateSystem</text><text y="94">TrueNorth</text><text class="g" y="106">HasSubContexts</text><text class="g" y="118">HasCoordinateOperation</text></g>
<g class="c" transform="translate(165.5,0)"><text y="22">[0:1]</text><text y="34">[0:1]</text><text class="g" y="46">S[0:?]</text><text y="58">[1:1]</text><text y="70">[0:1]</text><text y="82">[1:1]</text><text y="94">[0:1]</text><text class="g" y="106">S[0:?]</text><text class="g" y="118">S[0:1]</text></g></g>
<g id="n_fp_label1" transform="translate(608.5,5724.5)"><rect class="t" width="168" height="12"/><text class="w" x="2.5" y="10">IfcLabel</text><text class="w c" x="165.5" y="10">FootPrint</text></g>
<g id="n_fp_label2" transform="translate(608.5,5756.5)"><rect class="t" width="168" height="12"/><text class="w" x="2.5" y="10">IfcLabel</text></g>

<g id="n_pds2" transform="translate(208.5,5812.5)"><rect class="b" width="168" height="72"/><rect class="h" width="168" height="12"/><text class="hb" x="2.5" y="10">IfcProductDefinitionShape</text>
<g transform="translate(2.5,0)"><text y="22">Name</text><text y="34">Description</text><text y="46">Representations</text><text class="g" y="58">ShapeOfProduct</text><text class="g" y="70">HasShapeAspects</text></g>
<g class="c" transform="translate(165.5,0)"><text y="22">[0:1]</text><text y="34">[0:1]</text><text y="46">L[1:?]</text><text class="g" y="58">S[1:?]</text><text class="g" y="70">S[0:?]</text></g></g>
<g id="n_shaperep2" transform="translate(408.5,5812.5)"><rect class="b" width="168" height="108"/><rect class="h" width="168" height="12"/><text class="hb" x="2.5" y="10">IfcShapeRepresentation</text>
<g transform="translate(2.5,0)"><text y="22">ContextOfItems</text><text class="u" y="34">RepresentationIdentifier</text><text class="u" y="46">RepresentationType</text><text y="58">Items</text><text class="g" y="70">RepresentationMap</text><text class="g" y="82">LayerAssignments</text><text class="g" y="94">OfProductRepresentation</text><text class="g" y="106">OfShapeAspect</text></g>
<g class="c" transform="translate(165.5,0)"><text y="22">[1:1]</text><text y="34">[0:1]</text><text y="46">[0:1]</text><text y="58">S[1:?]</text><text class="g" y="70">S[0:1]</text><text class="g" y="82">S[0:?]</text><text class="g" y="94">S[0:?]</text><text class="g" y="106">S[0:1]</text></g></g>
<g id="n_grc2" transform="translate(608.5,5812.5)"><rect class="b" width="168" height="120"/><rect class="h" width="168" height="12"/><text class="hb" x="2.5" y="10" clip-path="url(#clipw)">IfcGeometricRepresentationContext</text>
<g transform="translate(2.5,0)"><text y="22">ContextIdentifier</text><text y="34">ContextType</text><text class="g" y="46">RepresentationsInContext</text><text y="58">CoordinateSpaceDimension</text><text y="70">Precision</text><text y="82">WorldCoordinateSystem</text><text y="94">TrueNorth</text><text class="g" y="106">HasSubContexts</text><text class="g" y="118">HasCoordinateOperation</text></g>
<g class="c" transform="translate(165.5,0)"><text y="22">[0:1]</text><text y="34">[0:1]</text><text class="g" y="46">S[0:?]</text><text y="58">[1:1]</text><text y="70">[0:1]</text><text y="82">[1:1]</text><text y="94">[0:1]</text><text class="g" y="106">S[0:?]</text><text class="g" y="118">S[0:1]</text></g></g>
<g id="n_pgr_label1" transform="translate(608.5,5952.5)"><rect class="t" width="168" height="12"/><text class="w" x="2.5" y="10">IfcLabel</text></g>
<g id="n_pgr_label2" transform="translate(608.5,5984.5)"><rect class="t" width="168" height="12"/><text class="w" x="2.5" y="10">IfcLabel</text></g>
</svg>
